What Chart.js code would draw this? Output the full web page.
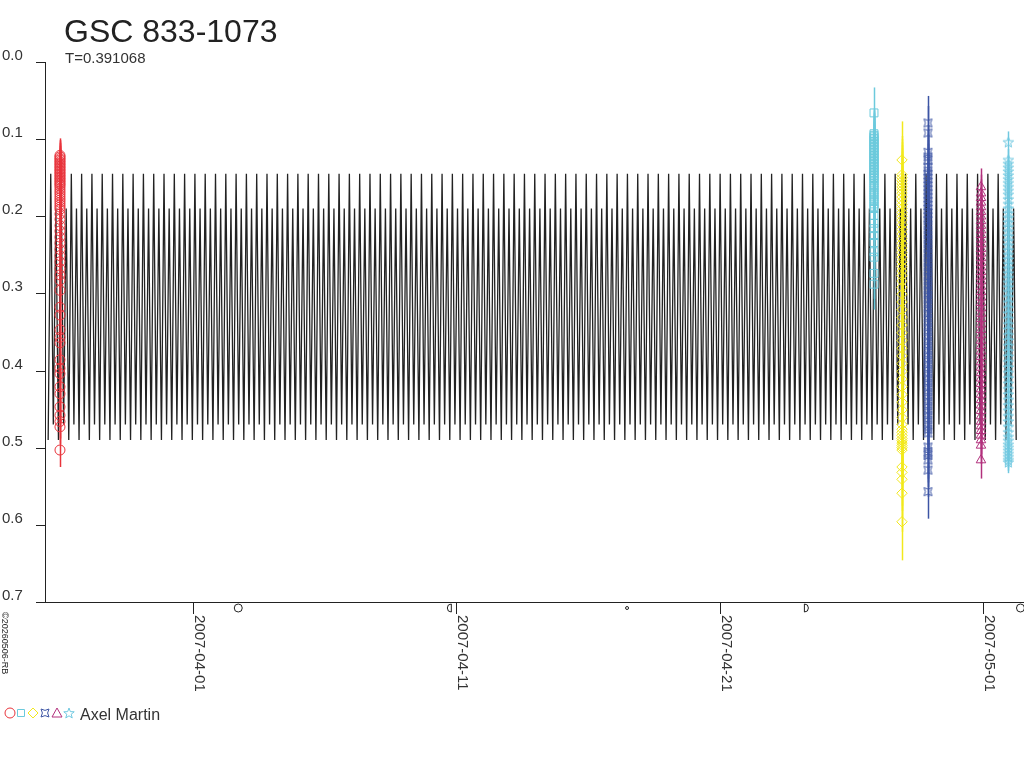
<!DOCTYPE html>
<html><head><meta charset="utf-8">
<script src="https://cdn.jsdelivr.net/npm/chart.js@4.4.1/dist/chart.umd.min.js"></script>
<style>html,body{margin:0;padding:0;background:#fff;overflow:hidden}canvas{display:block}</style>
</head><body>
<canvas id="c" width="1024" height="768"></canvas>
<script>
// ---- texts ----
const titleText = 'GSC 833-1073';
const subtitleText = 'T=0.391068';
const observerName = 'Axel Martin';
const creditText = '\u00A920260506-RB';

// ---- model light curve: one-period profile, tiled with the period ----
const period = 0.391068;
const epoch = 2454186.0;
const curveStart = 2454185.92;
const curveEnd = 2454222.83;
const profilePhase = [0.00, 0.25, 0.50, 0.75];
const profileMag   = [0.490, 0.145, 0.470, 0.190];

// ---- axes ----
const xMin = 2454185.918, xMax = 2454223.057;
const yMin = 0.0, yMax = 0.7;
const yTicks = [0.0, 0.1, 0.2, 0.3, 0.4, 0.5, 0.6, 0.7];
const yTickLabels = ['0.0', '0.1', '0.2', '0.3', '0.4', '0.5', '0.6', '0.7'];
const xTicks = [2454191.5, 2454201.5, 2454211.5, 2454221.5];
const xTickLabels = ['2007-04-01', '2007-04-11', '2007-04-21', '2007-05-01'];

// ---- moon phases ----
const moonTimes  = [2454193.219, 2454201.253, 2454207.983, 2454214.775, 2454222.923];
const moonPhases = ['full', 'last', 'new', 'first', 'full'];

// ---- observations (one night each) ----
const seriesSymbols = ['circle', 'rect', 'rectRot', 'astroid', 'triangle', 'star5'];
const seriesColors  = ['#e8333b', '#6ccadc', '#f2e81c', '#3c54a4', '#b2307c', '#70c8e0'];
const nightTimes    = [2454186.449, 2454217.361, 2454218.424, 2454219.411, 2454221.424, 2454222.462];
const errorSizes    = [0.022, 0.033, 0.050, 0.035, 0.024, 0.014];

const magNight1 = [0.121,0.123,0.125,0.127,0.129,0.131,0.133,0.135,0.137,0.139,0.141,0.143,0.145,0.147,0.149,0.151,0.153,0.155,0.157,0.159,0.161,0.164,0.167,0.170,0.173,0.176,0.179,0.182,0.185,0.188,0.191,0.197,0.204,0.212,0.219,0.227,0.235,0.243,0.251,0.259,0.268,0.276,0.283,0.296,0.318,0.328,0.347,0.357,0.364,0.386,0.397,0.404,0.421,0.430,0.447,0.458,0.466,0.473,0.503];
const magNight2 = [0.066,0.093,0.095,0.097,0.099,0.101,0.103,0.105,0.107,0.109,0.111,0.113,0.115,0.117,0.119,0.121,0.123,0.125,0.127,0.129,0.131,0.133,0.135,0.137,0.139,0.141,0.143,0.145,0.147,0.149,0.151,0.154,0.157,0.160,0.163,0.166,0.169,0.172,0.175,0.178,0.181,0.184,0.187,0.190,0.199,0.209,0.216,0.225,0.234,0.246,0.253,0.274,0.288];
const magNight3 = [0.127,0.146,0.150,0.154,0.158,0.162,0.166,0.170,0.175,0.180,0.185,0.190,0.195,0.200,0.205,0.211,0.217,0.223,0.229,0.235,0.241,0.247,0.253,0.259,0.265,0.271,0.277,0.284,0.292,0.301,0.311,0.321,0.331,0.341,0.351,0.361,0.371,0.381,0.391,0.401,0.411,0.421,0.431,0.441,0.451,0.461,0.470,0.476,0.480,0.484,0.488,0.491,0.494,0.497,0.500,0.503,0.525,0.532,0.541,0.559,0.596];
const magNight4 = [0.079,0.092,0.117,0.123,0.128,0.136,0.141,0.146,0.151,0.156,0.161,0.166,0.171,0.176,0.181,0.186,0.191,0.196,0.201,0.206,0.212,0.218,0.224,0.230,0.236,0.242,0.248,0.254,0.260,0.266,0.272,0.278,0.284,0.290,0.296,0.302,0.308,0.314,0.320,0.326,0.332,0.338,0.344,0.350,0.356,0.362,0.368,0.374,0.380,0.386,0.392,0.398,0.404,0.410,0.416,0.422,0.428,0.434,0.440,0.446,0.452,0.458,0.464,0.470,0.476,0.481,0.499,0.505,0.510,0.516,0.529,0.557];
const magNight5 = [0.162,0.170,0.176,0.182,0.188,0.194,0.200,0.206,0.212,0.218,0.224,0.230,0.236,0.242,0.248,0.254,0.260,0.266,0.272,0.278,0.284,0.291,0.298,0.305,0.312,0.319,0.326,0.333,0.340,0.347,0.354,0.361,0.368,0.375,0.382,0.389,0.396,0.403,0.410,0.417,0.424,0.431,0.438,0.445,0.452,0.459,0.466,0.472,0.478,0.484,0.490,0.497,0.516];
const magNight6 = [0.104,0.127,0.132,0.137,0.142,0.147,0.152,0.157,0.162,0.167,0.172,0.178,0.184,0.190,0.196,0.202,0.208,0.214,0.220,0.226,0.232,0.238,0.244,0.250,0.256,0.262,0.268,0.274,0.280,0.286,0.292,0.298,0.305,0.312,0.319,0.326,0.333,0.340,0.347,0.354,0.361,0.368,0.375,0.382,0.389,0.396,0.403,0.410,0.417,0.424,0.431,0.438,0.445,0.452,0.459,0.466,0.473,0.480,0.486,0.491,0.496,0.500,0.504,0.508,0.512,0.516,0.519];
const nightMags = [magNight1, magNight2, magNight3, magNight4, magNight5, magNight6];

// ---------------------------------------------------------------
function starPath(g, cx, cy, ro, ri) {
  g.beginPath();
  for (let i = 0; i < 10; i++) {
    const r = (i % 2) ? ri : ro;
    const a = -Math.PI / 2 + i * Math.PI / 5;
    g.lineTo(cx + r * Math.cos(a), cy + r * Math.sin(a));
  }
  g.closePath();
}
function astroidPath(g, cx, cy, r) {
  const k = r * 0.3;
  g.beginPath();
  g.moveTo(cx - r, cy - r);
  g.quadraticCurveTo(cx, cy - k, cx + r, cy - r);
  g.quadraticCurveTo(cx + k, cy, cx + r, cy + r);
  g.quadraticCurveTo(cx, cy + k, cx - r, cy + r);
  g.quadraticCurveTo(cx - k, cy, cx - r, cy - r);
  g.closePath();
}
function symbolPath(g, kind, cx, cy) {
  g.beginPath();
  if (kind === 'circle') { g.arc(cx, cy, 5, 0, Math.PI * 2); }
  else if (kind === 'rect') { g.rect(cx - 3.5, cy - 3.5, 7, 7); }
  else if (kind === 'rectRot') { g.moveTo(cx, cy - 5); g.lineTo(cx + 5, cy); g.lineTo(cx, cy + 5); g.lineTo(cx - 5, cy); g.closePath(); }
  else if (kind === 'triangle') { g.moveTo(cx, cy - 5); g.lineTo(cx + 5, cy + 4); g.lineTo(cx - 5, cy + 4); g.closePath(); }
  else if (kind === 'astroid') { astroidPath(g, cx, cy, 4); }
  else if (kind === 'star5') { starPath(g, cx, cy + 0.5, 5.5, 2.3); }
}
function makeSymbolCanvas(kind, color) {
  const c = document.createElement('canvas');
  c.width = 13; c.height = 13;
  const g = c.getContext('2d');
  g.strokeStyle = color; g.lineWidth = 1;
  if (kind === 'star5') starPath(g, 6.5, 6.8, 5.5, 2.3);
  else astroidPath(g, 6.5, 6.5, 4);
  g.stroke();
  return c;
}
function pointStyleFor(i) {
  const s = seriesSymbols[i];
  if (s === 'star5' || s === 'astroid') return makeSymbolCanvas(s, seriesColors[i]);
  return s;
}
const symbolRadius = { circle: 5, rect: 5.6, rectRot: 5.2, triangle: 5.5, astroid: 5, star5: 5 };

// model curve points
const curvePts = [];
const kStart = Math.floor((curveStart - epoch) / period) - 1;
const kEnd = Math.ceil((curveEnd - epoch) / period) + 1;
for (let k = kStart; k <= kEnd; k++) {
  for (let j = 0; j < profilePhase.length; j++) {
    const t = epoch + (k + profilePhase[j]) * period;
    if (t >= curveStart && t <= curveEnd) curvePts.push({ x: t, y: profileMag[j] });
  }
}

const datasets = [];
nightMags.forEach((mags, i) => {
  datasets.push({
    label: 'night' + (i + 1),
    data: mags.map(m => ({ x: nightTimes[i], y: m })),
    pointStyle: pointStyleFor(i),
    pointRadius: symbolRadius[seriesSymbols[i]],
    pointBorderColor: seriesColors[i],
    pointBackgroundColor: 'rgba(0,0,0,0)',
    pointBorderWidth: 1,
    showLine: false,
    order: 0,
    errIndex: i
  });
});
datasets.push({
  label: 'model',
  data: curvePts,
  showLine: true,
  borderColor: '#222',
  borderWidth: 1.3,
  pointRadius: 0,
  tension: 0,
  order: 1
});

const FONT = '"Liberation Sans", Arial, sans-serif';

const decorPlugin = {
  id: 'decor',
  beforeDatasetsDraw(chart) {
    const { ctx, chartArea: a, scales: { x, y } } = chart;
    ctx.save();
    ctx.strokeStyle = '#222';
    ctx.lineWidth = 1;
    ctx.beginPath();
    ctx.moveTo(a.left - 0.5, a.top);
    ctx.lineTo(a.left - 0.5, a.bottom);
    ctx.stroke();
    ctx.beginPath();
    ctx.moveTo(a.left - 10, a.bottom + 0.5);
    ctx.lineTo(chart.width, a.bottom + 0.5);
    ctx.stroke();
    ctx.fillStyle = '#333';
    ctx.font = '15px ' + FONT;
    ctx.textBaseline = 'alphabetic';
    ctx.textAlign = 'left';
    yTicks.forEach((v, i) => {
      const py = Math.round(y.getPixelForValue(v)) + 0.5;
      ctx.beginPath();
      ctx.moveTo(a.left - 10, py);
      ctx.lineTo(a.left, py);
      ctx.stroke();
      ctx.fillText(yTickLabels[i], 2, py - 3);
    });
    xTicks.forEach((v, i) => {
      const px = Math.round(x.getPixelForValue(v)) + 0.5;
      ctx.beginPath();
      ctx.moveTo(px, a.bottom);
      ctx.lineTo(px, a.bottom + 12);
      ctx.stroke();
      ctx.save();
      ctx.translate(px + 1, a.bottom + 13);
      ctx.rotate(Math.PI / 2);
      ctx.fillText(xTickLabels[i], 0, 0);
      ctx.restore();
    });
    ctx.strokeStyle = '#222';
    moonTimes.forEach((t, i) => {
      const px = x.getPixelForValue(t);
      const py = a.bottom + 6;
      ctx.beginPath();
      const ph = moonPhases[i];
      if (ph === 'full') {
        ctx.arc(px, py, 4, 0, Math.PI * 2);
      } else if (ph === 'last') {
        ctx.arc(px + 1.5, py, 4, Math.PI / 2, Math.PI * 1.5);
        ctx.closePath();
      } else if (ph === 'first') {
        ctx.arc(px - 1.5, py, 4, -Math.PI / 2, Math.PI / 2);
        ctx.closePath();
      } else {
        ctx.arc(px, py, 1.5, 0, Math.PI * 2);
      }
      ctx.stroke();
    });
    ctx.restore();
  },
  beforeDatasetDraw(chart, args) {
    const ds = chart.data.datasets[args.index];
    if (ds.errIndex === undefined) return;
    const i = ds.errIndex;
    const { ctx, scales: { x, y } } = chart;
    const e = errorSizes[i];
    ctx.save();
    ctx.strokeStyle = seriesColors[i];
    ctx.lineWidth = 1.5;
    ds.data.forEach(p => {
      const px = Math.round(x.getPixelForValue(p.x)) + 0.5;
      ctx.beginPath();
      ctx.moveTo(px, y.getPixelForValue(p.y - e));
      ctx.lineTo(px, y.getPixelForValue(p.y + e));
      ctx.stroke();
    });
    ctx.restore();
  },
  afterDraw(chart) {
    const { ctx } = chart;
    ctx.save();
    ctx.fillStyle = '#222';
    ctx.textAlign = 'left';
    ctx.textBaseline = 'alphabetic';
    ctx.font = '32px ' + FONT;
    ctx.fillText(titleText, 64, 42);
    ctx.fillStyle = '#333';
    ctx.font = '15px ' + FONT;
    ctx.fillText(subtitleText, 65, 63);
    ctx.save();
    ctx.font = '9px ' + FONT;
    ctx.fillStyle = '#222';
    ctx.translate(2, 612);
    ctx.rotate(Math.PI / 2);
    ctx.fillText(creditText, 0, 0);
    ctx.restore();
    const ly = 713;
    const lx = [10, 21, 33, 45, 57, 69];
    seriesSymbols.forEach((s, i) => {
      ctx.strokeStyle = seriesColors[i];
      ctx.lineWidth = 1;
      symbolPath(ctx, s, lx[i], ly);
      ctx.stroke();
    });
    ctx.fillStyle = '#333';
    ctx.font = '16px ' + FONT;
    ctx.fillText(observerName, 80, 720);
    ctx.restore();
  }
};

new Chart(document.getElementById('c'), {
  type: 'scatter',
  data: { datasets },
  options: {
    responsive: false,
    animation: false,
    devicePixelRatio: 1,
    layout: { autoPadding: false, padding: { left: 46, top: 62, right: 0, bottom: 166 } },
    plugins: { legend: { display: false }, tooltip: { enabled: false }, title: { display: false } },
    scales: {
      x: { type: 'linear', display: false, min: xMin, max: xMax },
      y: { type: 'linear', display: false, min: yMin, max: yMax, reverse: true }
    }
  },
  plugins: [decorPlugin]
});
</script>
</body></html>
